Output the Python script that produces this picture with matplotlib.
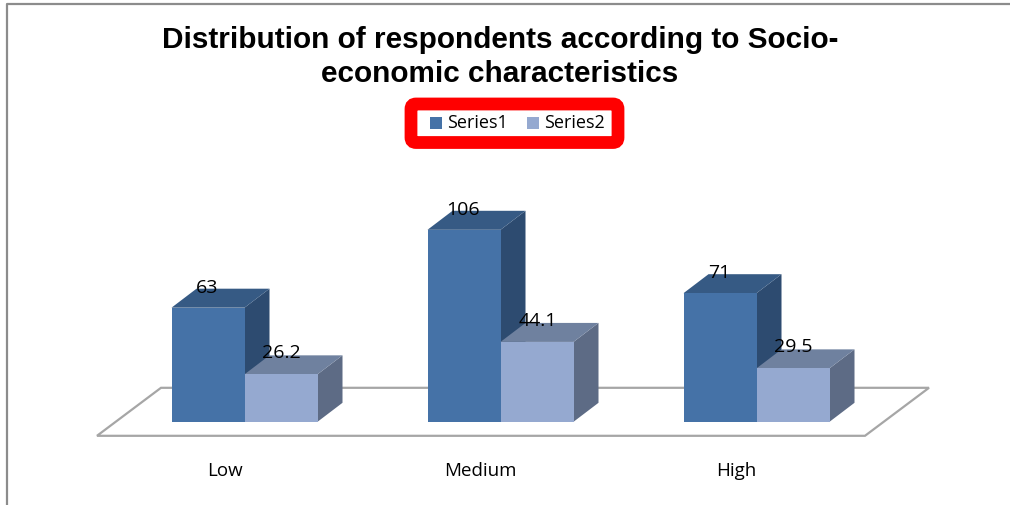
import matplotlib
matplotlib.use('Agg')
import numpy as np
import matplotlib.pyplot as plt
from matplotlib.patches import Polygon, Rectangle, FancyBboxPatch

# values
categories = ['Low', 'Medium', 'High']
series1 = [63, 106, 71]
series2 = [26.2, 44.1, 29.5]

W, H = 1010, 506
PX_X = 256.0           # pixels per category
PX_Y = 192 / 106.0     # pixels per value unit
X0, Y0 = 244.5, 422.8  # pixel position of first category / value 0
BAR_W = 73 / PX_X
DX = 25 / PX_X         # 3d depth
DY = 19 / PX_Y

fig = plt.figure(figsize=(W / 100, H / 100), dpi=100)
ax = fig.add_axes([0, 0, 1, 1])
ax.set_xlim(-X0 / PX_X, (W - X0) / PX_X)
ax.set_ylim((Y0 - H) / PX_Y, Y0 / PX_Y)
ax.axis('off')


def px(x, y):
    return (x - X0) / PX_X, (Y0 - y) / PX_Y


def bar3d(x, val, front, top, side):
    ax.add_patch(Polygon([(x + BAR_W, 0), (x + BAR_W + DX, DY), (x + BAR_W + DX, val + DY), (x + BAR_W, val)],
                         fc=side, ec='none', zorder=3))
    ax.add_patch(Polygon([(x, val), (x + BAR_W, val), (x + BAR_W + DX, val + DY), (x + DX, val + DY)],
                         fc=top, ec='none', zorder=3))
    ax.add_patch(Rectangle((x, 0), BAR_W, val, fc=front, ec='none', zorder=3))


# outer chart border
ax.plot(*zip(px(7, 506), px(7, 4.6), px(1010, 4.6)), color='#8c8c8c', lw=1.6, zorder=1)

# floor
floor = [px(97, 436.8), px(865, 436.8), px(929, 388.8), px(161, 388.8)]
ax.add_patch(Polygon(floor, fc='white', ec='#a6a6a6', lw=1.6, zorder=2))

for i, cat in enumerate(categories):
    bar3d(i - BAR_W, series1[i], '#4572a7', '#365a84', '#2d4b70')
    bar3d(i, series2[i], '#95a9d0', '#6f819f', '#5d6b85')
    ax.text(i - BAR_W + 36 / PX_X, series1[i] + DY + 2 / PX_Y, str(series1[i]), fontsize=14, family='Open Sans',
            ha='center', va='center', color='black', zorder=5)
    ax.text(i + 37 / PX_X, series2[i] + DY + 3 / PX_Y, str(series2[i]), fontsize=14, family='Open Sans',
            ha='center', va='center', color='black', zorder=5)
    ax.text(i - 20 / PX_X, (Y0 - 471) / PX_Y, cat, fontsize=13.5, family='Open Sans',
            ha='center', va='center', color='black', zorder=5)

# title
ax.text(*px(500, 40.5), 'Distribution of respondents according to Socio-', fontsize=21.4, fontweight='bold',
        family='Liberation Sans', ha='center', va='center')
ax.text(*px(500, 74.5), 'economic characteristics', fontsize=21.4, fontweight='bold',
        family='Liberation Sans', ha='center', va='center')

# legend with its red box
lx, ly = px(411, 143.5)
rx, ry = px(618, 105)
ax.add_patch(FancyBboxPatch((lx, ly), rx - lx, ry - ly, boxstyle='round,pad=0,rounding_size=0.02',
                            mutation_aspect=PX_X / PX_Y, fc='white', ec='#ff0000', lw=9.2, zorder=4))
for x_sq, x_txt, col, name in [(430, 447, '#4572a7', 'Series1'), (527, 544, '#95a9d0', 'Series2')]:
    a, b = px(x_sq, 130)
    ax.add_patch(Rectangle((a, b), 12 / PX_X, 12 / PX_Y, fc=col, ec='none', zorder=5))
    ax.text(*px(x_txt, 123), name, fontsize=13, family='Open Sans', ha='left', va='center', zorder=5)

fig.savefig('out.png', dpi=100)
